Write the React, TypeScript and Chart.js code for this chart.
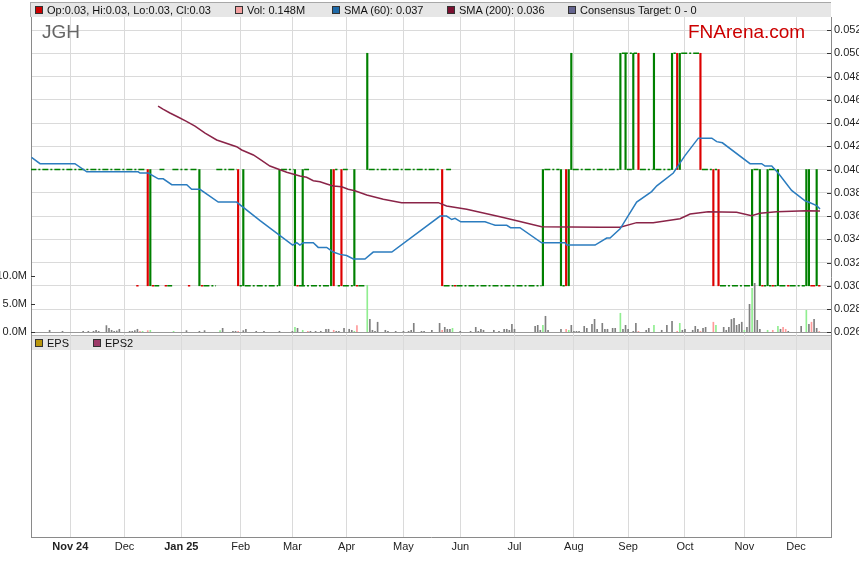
import React, { useEffect, useRef } from 'react';
import { Chart, registerables } from 'chart.js';

Chart.register(...registerables);

const FONT = '"Liberation Sans", Arial, Helvetica, sans-serif';

// x axis = weekday number (day 0 = Mon 14 Oct 2024)
const monthTickDays = [14, 35, 57, 80, 100, 121, 143, 165, 186, 209, 230, 252, 275, 295];
const monthTickLabels = ['Nov 24', 'Dec', 'Jan 25', 'Feb', 'Mar', 'Apr', 'May', 'Jun', 'Jul', 'Aug', 'Sep', 'Oct', 'Nov', 'Dec'];
const priceTicks = [0.026, 0.028, 0.03, 0.032, 0.034, 0.036, 0.038, 0.04, 0.042, 0.044, 0.046, 0.048, 0.05, 0.052];
const volumeTicks = [0, 5, 10];

// days whose bar spans a range: [day, low, high, tone]
const rangeBars: [number, number, number, string][] = [
  [44, 0.03, 0.04, 'dn'], [45, 0.03, 0.04, 'up'], [64, 0.03, 0.04, 'up'], [79, 0.03, 0.04, 'dn'],
  [81, 0.03, 0.04, 'up'], [95, 0.03, 0.04, 'up'], [101, 0.03, 0.04, 'up'], [104, 0.03, 0.04, 'up'],
  [115, 0.03, 0.04, 'up'], [116, 0.03, 0.04, 'dn'], [119, 0.03, 0.04, 'dn'], [124, 0.03, 0.04, 'up'],
  [129, 0.04, 0.05, 'up'], [158, 0.03, 0.04, 'dn'], [197, 0.03, 0.04, 'up'], [204, 0.03, 0.04, 'up'],
  [206, 0.03, 0.04, 'dn'], [207, 0.03, 0.04, 'up'], [208, 0.04, 0.05, 'up'], [227, 0.04, 0.05, 'up'],
  [229, 0.04, 0.05, 'up'], [232, 0.04, 0.05, 'up'], [234, 0.04, 0.05, 'dn'], [240, 0.04, 0.05, 'up'],
  [247, 0.04, 0.05, 'up'], [249, 0.04, 0.05, 'dn'], [250, 0.04, 0.05, 'up'], [258, 0.04, 0.05, 'dn'],
  [263, 0.03, 0.04, 'dn'], [265, 0.03, 0.04, 'dn'], [278, 0.03, 0.04, 'up'], [281, 0.03, 0.04, 'up'],
  [284, 0.03, 0.04, 'up'], [288, 0.03, 0.04, 'up'], [299, 0.03, 0.04, 'up'], [300, 0.03, 0.04, 'up'],
  [303, 0.03, 0.04, 'up'],
];

// runs of flat days (open = high = low = close): [firstDay, lastDay, price]
const flatUpRuns: [number, number, number][] = [
  [-1, 43, 0.04], [49, 50, 0.04], [54, 59, 0.04], [61, 63, 0.04], [71, 78, 0.04], [96, 100, 0.04],
  [105, 106, 0.04], [117, 117, 0.04], [120, 121, 0.04], [130, 157, 0.04], [160, 161, 0.04],
  [198, 203, 0.04], [209, 226, 0.04], [230, 231, 0.04], [235, 239, 0.04], [241, 246, 0.04],
  [259, 262, 0.04], [264, 264, 0.04], [279, 280, 0.04], [285, 287, 0.04],
  [228, 233, 0.05], [248, 248, 0.05], [251, 257, 0.05],
  [47, 48, 0.03], [52, 53, 0.03], [66, 70, 0.03], [80, 80, 0.03], [82, 94, 0.03], [103, 114, 0.03],
  [118, 118, 0.03], [120, 123, 0.03], [126, 128, 0.03], [159, 162, 0.03], [164, 196, 0.03],
  [205, 205, 0.03], [266, 277, 0.03], [283, 283, 0.03], [285, 285, 0.03], [287, 287, 0.03],
  [289, 291, 0.03], [293, 298, 0.03],
];
const flatDownRuns: [number, number, number][] = [
  [40, 40, 0.03], [46, 46, 0.03], [51, 51, 0.03], [60, 60, 0.03], [65, 65, 0.03], [102, 102, 0.03],
  [125, 125, 0.03], [163, 163, 0.03], [282, 282, 0.03], [286, 286, 0.03], [292, 292, 0.03],
  [301, 302, 0.03], [304, 304, 0.03],
];

// SMA (60): [day, value]
const sma60: [number, number][] = [
  [-1, 0.04105], [2.3, 0.0405], [15.8, 0.0405], [20.4, 0.0398], [40.3, 0.0398], [41, 0.0397], [44.2, 0.0397],
  [48.1, 0.0392], [50, 0.0392], [53.3, 0.0387], [59.1, 0.0387], [61, 0.0383], [64.2, 0.0383], [71.3, 0.0372],
  [78.4, 0.0372], [87.5, 0.0356], [100.1, 0.0335], [101.7, 0.0337], [102.9, 0.0335], [104.2, 0.0337],
  [108.1, 0.0337], [110, 0.0333], [113.3, 0.0333], [115.8, 0.0329], [118.4, 0.0327], [121, 0.0326],
  [123.6, 0.0323], [128.1, 0.0323], [131.3, 0.0329], [138.5, 0.0329], [157.2, 0.036], [159.7, 0.036],
  [161.7, 0.0357], [163, 0.0358], [165.2, 0.0355], [174.6, 0.0355], [177.2, 0.0353], [178.5, 0.0352],
  [183, 0.0352], [184.5, 0.035], [188.1, 0.035], [196.5, 0.0337], [205.6, 0.0337], [206.2, 0.0335],
  [217.2, 0.0335], [221.7, 0.0341], [223, 0.0341], [226.9, 0.0349], [233.3, 0.0372], [239.1, 0.0381],
  [241.1, 0.0386], [247.5, 0.0397], [252, 0.0412], [257.2, 0.0427], [262.4, 0.0427], [264.3, 0.0424],
  [266.5, 0.0423], [277.2, 0.0405], [281.7, 0.0405], [283, 0.0403], [285.6, 0.0403], [288.1, 0.0397],
  [293.3, 0.0382], [298.5, 0.0373], [299.8, 0.0372], [303, 0.0369], [304.3, 0.0366],
];

// SMA (200): [day, value]
const sma200: [number, number][] = [
  [48, 0.04546], [49.9, 0.0452], [52.6, 0.04486], [55.7, 0.04452], [58.8, 0.04417], [62.3, 0.04374],
  [66.2, 0.04314], [70.7, 0.04254], [78.4, 0.04196], [80.4, 0.04168], [84.9, 0.04125], [87.5, 0.04088],
  [91.3, 0.0403], [97.8, 0.03976], [102.9, 0.03944], [105.5, 0.03933], [108.1, 0.03904], [110.7, 0.03895],
  [113.3, 0.03876], [115.8, 0.03858], [119.1, 0.03852], [121.6, 0.0383], [124.2, 0.03818], [128.8, 0.03781],
  [135.2, 0.03744], [142.3, 0.03715], [156.5, 0.03715], [159.7, 0.03686], [167.5, 0.03658], [180.4, 0.03594],
  [186.9, 0.0356], [196.5, 0.03508], [219.1, 0.03503], [226.9, 0.03503], [233.3, 0.03543], [239.7, 0.03543],
  [250.1, 0.03577], [254, 0.03617], [261, 0.03637], [272, 0.03632], [277.8, 0.03603], [281, 0.03623],
  [287.5, 0.03637], [299.1, 0.03646], [304.3, 0.03643],
];

// volume (millions of shares)
const volDays = [
  6, 11, 19, 21, 23, 24, 25, 28, 29, 30, 31, 32, 33, 37, 38, 39, 40, 41, 42, 44, 45, 54, 59, 64, 66, 72, 73, 77, 78, 79,
  81, 82, 86, 89, 95, 100, 101, 102, 104, 106, 107, 109, 111, 113, 114, 116, 117, 118, 120, 122, 123, 124, 125,
  129, 130, 131, 132, 133, 136, 137, 140, 143, 145, 146, 147, 150, 151, 154, 157, 158, 159, 160, 161, 162, 165,
  169, 171, 172, 173, 174, 178, 180, 182, 183, 184, 185, 186, 194, 195, 196, 197, 198, 199, 204, 206, 207, 208,
  209, 210, 211, 213, 214, 216, 217, 218, 220, 221, 222, 224, 225, 227, 228, 229, 230, 232, 233, 234, 237, 238,
  240, 243, 245, 247, 249, 250, 251, 252, 255, 256, 257, 258, 259, 260, 263, 264, 267, 268, 269, 270, 271, 272,
  273, 274, 275, 276, 277, 278, 279, 280, 281, 284, 286, 288, 289, 290, 291, 292, 297, 299, 300, 301, 302, 303, 304,
];
const volMillions = [
  0.36, 0.18, 0.18, 0.18, 0.18, 0.36, 0.18, 1.2, 0.71, 0.36, 0.18, 0.24, 0.54, 0.18, 0.18, 0.3, 0.54, 0.18, 0.18, 0.3, 0.36, 0.18, 0.3, 0.18, 0.3, 0.3, 0.71, 0.18, 0.18, 0.18,
  0.3, 0.54, 0.18, 0.18, 0.18, 0.18, 0.89, 0.71, 0.36, 0.18, 0.18, 0.18, 0.18, 0.54, 0.54, 0.36, 0.18, 0.18, 0.71, 0.54, 0.36, 0.18, 1.2,
  8.4, 2.3, 0.36, 0.18, 1.8, 0.36, 0.18, 0.18, 0.18, 0.18, 0.36, 1.6, 0.18, 0.18, 0.36, 1.6, 0.36, 0.89, 0.54, 0.54, 0.71, 0.18,
  0.18, 0.89, 0.18, 0.54, 0.36, 0.36, 0.18, 0.54, 0.54, 0.36, 1.43, 0.54, 1.07, 1.25, 0.36, 1.25, 2.86, 0.36, 0.54, 0.54, 0.36, 1.25,
  0.18, 0.18, 0.18, 1.07, 0.71, 1.43, 2.32, 0.54, 1.6, 0.54, 0.54, 0.71, 0.71, 3.4, 0.54, 1.25, 0.54, 0.18, 1.6, 0.18, 0.36, 0.71,
  1.25, 0.36, 1.25, 1.96, 0.18, 1.6, 0.36, 0.54, 0.36, 1.07, 0.54, 0.18, 0.71, 0.89, 1.8, 1.25, 0.89, 0.36, 0.89, 2.3, 2.5, 1.25,
  1.43, 1.8, 0.36, 0.89, 5.0, 7.86, 8.75, 2.14, 0.54, 0.36, 0.36, 1.07, 0.54, 0.89, 0.54, 0.18, 1.07, 3.93, 1.43, 1.8, 2.3, 0.71, 0.15,
];
const volTone = [
  'n', 'n', 'n', 'n', 'n', 'n', 'n', 'n', 'n', 'n', 'n', 'n', 'n', 'n', 'n', 'n', 'n', 'r', 'g', 'r', 'g', 'g', 'n', 'n', 'n', 'g', 'n', 'n', 'n', 'r',
  'n', 'n', 'n', 'n', 'n', 'n', 'g', 'n', 'g', 'r', 'n', 'n', 'n', 'n', 'n', 'r', 'n', 'n', 'n', 'n', 'n', 'g', 'r',
  'g', 'n', 'n', 'n', 'n', 'n', 'n', 'n', 'n', 'n', 'n', 'n', 'n', 'n', 'n', 'n', 'r', 'n', 'n', 'n', 'g', 'n',
  'n', 'n', 'n', 'n', 'n', 'n', 'n', 'n', 'n', 'n', 'n', 'n', 'n', 'n', 'n', 'g', 'n', 'n', 'n', 'r', 'g', 'n',
  'n', 'n', 'n', 'n', 'n', 'n', 'n', 'n', 'n', 'n', 'n', 'n', 'n', 'g', 'n', 'n', 'n', 'n', 'n', 'r', 'n', 'n',
  'g', 'n', 'n', 'n', 'r', 'g', 'n', 'n', 'n', 'n', 'n', 'r', 'n', 'n', 'r', 'g', 'n', 'n', 'n', 'n', 'n', 'n',
  'n', 'n', 'g', 'n', 'n', 'g', 'n', 'n', 'n', 'g', 'r', 'g', 'n', 'r', 'r', 'n', 'n', 'g', 'n', 'r', 'n', 'n', 'r',
];

const legendTop = [
  { text: 'Op:0.03, Hi:0.03, Lo:0.03, Cl:0.03', color: '#cc0000' },
  { text: 'Vol: 0.148M', color: '#f4a0a0' },
  { text: 'SMA (60): 0.037', color: '#1f6aa8' },
  { text: 'SMA (200): 0.036', color: '#7a1030' },
  { text: 'Consensus Target: 0 - 0', color: '#64648f' },
];
const legendLower = [
  { text: 'EPS', color: '#b8960c' },
  { text: 'EPS2', color: '#9c3a68' },
];

const UP = '#008000';
const DOWN = '#dd0000';
const VOL_COLORS: Record<string, string> = { n: '#808080', g: '#90ee90', r: '#ff9a9a' };

const DAY_MIN = -1.2;
const DAY_MAX = 308.55;
const PRICE_MIN = 0.00839;
const PRICE_MAX = 0.05312;
const VOL_MIN = -36.55;
const VOL_MAX = 56.3;

function runsToPoints(runs: [number, number, number][]) {
  const pts: { x: number; y: number | null }[] = [];
  [...runs].sort((a, b) => a[0] - b[0]).forEach(([a, b, p]) => {
    pts.push({ x: a - 0.45, y: p }, { x: b + 0.45, y: p }, { x: b + 0.5, y: null });
  });
  return pts;
}

const panelPlugin = {
  id: 'panels',
  beforeDraw(chart: any) {
    const { ctx, chartArea } = chart;
    const y0 = Math.round(chart.scales.y.getPixelForValue(priceTicks[0]));
    ctx.save();
    ctx.fillStyle = '#e6e6e6';
    ctx.fillRect(chartArea.left, y0 + 3, chartArea.right - chartArea.left, 15);
    ctx.strokeStyle = '#b4b4b4';
    ctx.lineWidth = 1;
    ctx.beginPath();
    ctx.moveTo(chartArea.left, y0 + 3.5);
    ctx.lineTo(chartArea.right, y0 + 3.5);
    ctx.stroke();
    ctx.restore();
  },
  afterDraw(chart: any) {
    const { ctx, chartArea } = chart;
    const ys = chart.scales.y;
    const yv = chart.scales.yv;
    ctx.save();
    ctx.lineWidth = 1;
    ctx.strokeStyle = '#999999';
    const y0 = Math.round(ys.getPixelForValue(priceTicks[0])) + 0.5;
    ctx.beginPath();
    ctx.moveTo(chartArea.left, y0);
    ctx.lineTo(chartArea.right, y0);
    ctx.stroke();
    ctx.strokeStyle = '#333333';
    ctx.beginPath();
    priceTicks.forEach((v) => {
      const py = Math.round(ys.getPixelForValue(v)) + 0.5;
      ctx.moveTo(chartArea.right - 4, py);
      ctx.lineTo(chartArea.right, py);
    });
    volumeTicks.forEach((v) => {
      const py = Math.round(yv.getPixelForValue(v)) + 0.5;
      ctx.moveTo(chartArea.left, py);
      ctx.lineTo(chartArea.left + 4, py);
    });
    ctx.stroke();
    ctx.restore();
  },
};

function LegendItem({ left, top, color, text }: { left: number; top: number; color: string; text: string }) {
  return (
    <div
      style={{
        position: 'absolute',
        left,
        top,
        display: 'flex',
        alignItems: 'center',
        fontSize: 11,
        lineHeight: '12px',
        color: '#111',
        whiteSpace: 'nowrap',
        fontFamily: FONT,
      }}
    >
      <span
        style={{
          display: 'inline-block',
          width: 6,
          height: 6,
          background: color,
          border: '1px solid #333',
          marginRight: 4,
        }}
      />
      {text}
    </div>
  );
}

export default function App() {
  const ref = useRef<HTMLCanvasElement>(null);

  useEffect(() => {
    if (!ref.current) return;
    const chart = new Chart(ref.current, {
      type: 'bar',
      data: {
        datasets: [
          {
            type: 'line',
            label: 'SMA (60)',
            data: sma60.map(([x, y]) => ({ x, y })),
            borderColor: '#2b7cbf',
            borderWidth: 1.5,
            pointRadius: 0,
            tension: 0,
            xAxisID: 'x',
            yAxisID: 'y',
            order: 1,
          } as any,
          {
            type: 'line',
            label: 'SMA (200)',
            data: sma200.map(([x, y]) => ({ x, y })),
            borderColor: '#8a2448',
            borderWidth: 1.5,
            pointRadius: 0,
            tension: 0,
            xAxisID: 'x',
            yAxisID: 'y',
            order: 2,
          } as any,
          {
            type: 'bar',
            label: 'range',
            data: rangeBars.map(([x, lo, hi]) => ({ x, y: [lo, hi] })),
            backgroundColor: rangeBars.map((r) => (r[3] === 'up' ? UP : DOWN)),
            barThickness: 1.5,
            grouped: false,
            borderWidth: 0,
            xAxisID: 'x',
            yAxisID: 'y',
            order: 3,
          } as any,
          {
            type: 'line',
            label: 'flat up',
            data: runsToPoints(flatUpRuns),
            borderColor: UP,
            borderWidth: 1.6,
            borderDash: [6, 2, 2, 2],
            borderCapStyle: 'butt',
            pointRadius: 0,
            spanGaps: false,
            xAxisID: 'x',
            yAxisID: 'y',
            order: 4,
          } as any,
          {
            type: 'line',
            label: 'flat down',
            data: runsToPoints(flatDownRuns),
            borderColor: DOWN,
            borderWidth: 1.6,
            pointRadius: 0,
            spanGaps: false,
            xAxisID: 'x',
            yAxisID: 'y',
            order: 4,
          } as any,
          {
            type: 'bar',
            label: 'Vol',
            data: volDays.map((x, i) => ({ x, y: volMillions[i] })),
            backgroundColor: volTone.map((t) => VOL_COLORS[t]),
            barThickness: 1,
            grouped: false,
            borderWidth: 0,
            xAxisID: 'x',
            yAxisID: 'yv',
            order: 5,
          } as any,
        ],
      },
      options: {
        animation: false,
        responsive: false,
        devicePixelRatio: 1,
        events: [],
        layout: { padding: { top: 17, left: 0, right: 0, bottom: 0 } },
        plugins: { legend: { display: false }, tooltip: { enabled: false } },
        scales: {
          x: {
            type: 'linear',
            position: 'bottom',
            min: DAY_MIN,
            max: DAY_MAX,
            offset: false,
            afterBuildTicks: (s: any) => {
              s.ticks = monthTickDays.map((v) => ({ value: v }));
            },
            afterFit: (s: any) => {
              s.height = 29;
            },
            ticks: {
              autoSkip: false,
              maxRotation: 0,
              padding: 3,
              color: '#222',
              callback: (_v: any, i: number) => monthTickLabels[i],
              font: (c: any) => ({
                family: FONT,
                size: 11,
                weight: monthTickLabels[c.index] && monthTickLabels[c.index].includes(' ') ? 'bold' : 'normal',
              }),
            },
            grid: { color: '#dadada', lineWidth: 1, drawTicks: false, offset: false },
            border: { display: true, color: '#8a8a8a' },
          },
          y: {
            type: 'linear',
            position: 'right',
            min: PRICE_MIN,
            max: PRICE_MAX,
            afterBuildTicks: (s: any) => {
              s.ticks = priceTicks.map((v) => ({ value: v }));
            },
            afterFit: (s: any) => {
              s.width = 28;
            },
            ticks: {
              padding: 3,
              color: '#222',
              font: { family: FONT, size: 11 },
              callback: (v: any) => Number(v).toFixed(3),
            },
            grid: { color: '#dadada', lineWidth: 1, drawTicks: false, offset: false },
            border: { display: true, color: '#8a8a8a' },
          },
          yv: {
            type: 'linear',
            position: 'left',
            min: VOL_MIN,
            max: VOL_MAX,
            afterBuildTicks: (s: any) => {
              s.ticks = volumeTicks.map((v) => ({ value: v }));
            },
            afterFit: (s: any) => {
              s.width = 31;
            },
            ticks: {
              padding: 4,
              color: '#222',
              font: { family: FONT, size: 11 },
              callback: (v: any) => `${Number(v).toFixed(1)}M`,
            },
            grid: { display: false, drawTicks: false },
            border: { display: true, color: '#8a8a8a' },
          },
        },
      } as any,
      plugins: [panelPlugin],
    });
    return () => chart.destroy();
  }, []);

  const topLefts = [35, 235, 332, 447, 568];
  const lowerLefts = [35, 93];

  return (
    <div
      style={{
        position: 'absolute',
        left: 0,
        top: 0,
        width: 859,
        height: 566,
        background: '#fff',
        overflow: 'hidden',
        fontFamily: FONT,
      }}
    >
      <div
        style={{
          position: 'absolute',
          left: 30,
          top: 2,
          width: 801,
          height: 15,
          boxSizing: 'border-box',
          background: '#e6e6e6',
          borderTop: '1px solid #a8a8a8',
          borderLeft: '1px solid #a8a8a8',
        }}
      />
      <canvas ref={ref} width={859} height={566} style={{ position: 'absolute', left: 0, top: 0 }} />
      {legendTop.map((l, i) => (
        <LegendItem key={l.text} left={topLefts[i]} top={4} color={l.color} text={l.text} />
      ))}
      {legendLower.map((l, i) => (
        <LegendItem key={l.text} left={lowerLefts[i]} top={337} color={l.color} text={l.text} />
      ))}
      <div
        style={{
          position: 'absolute',
          left: 42,
          top: 22,
          fontSize: 19,
          lineHeight: '19px',
          color: '#666',
          fontFamily: FONT,
        }}
      >
        JGH
      </div>
      <div
        style={{
          position: 'absolute',
          left: 688,
          top: 22,
          fontSize: 19,
          lineHeight: '19px',
          color: '#cc0000',
          fontFamily: FONT,
        }}
      >
        FNArena.com
      </div>
    </div>
  );
}
